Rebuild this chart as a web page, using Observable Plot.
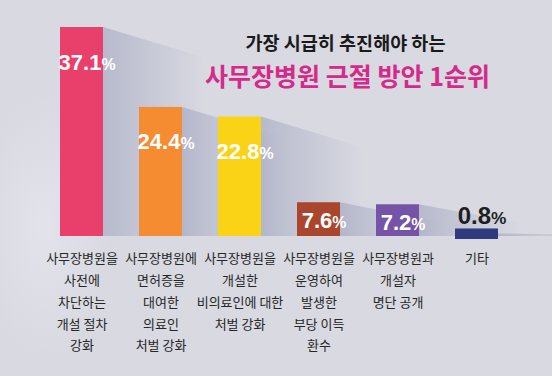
<!DOCTYPE html>
<html><head><meta charset="utf-8">
<script src="https://cdn.jsdelivr.net/npm/d3@7"></script>
<script src="https://cdn.jsdelivr.net/npm/@observablehq/plot@0.6"></script>
<style>
html,body{margin:0;padding:0;background:#d8d9e1;}
#chart svg{display:block;}
</style></head><body><div id="chart"></div>
<script>
// ---- data ----
const categories = [
  "사무장병원을\n사전에\n차단하는\n개설 절차\n강화",
  "사무장병원에\n면허증을\n대여한\n의료인\n처벌 강화",
  "사무장병원을\n개설한\n비의료인에 대한\n처벌 강화",
  "사무장병원을\n운영하여\n발생한\n부당 이득\n환수",
  "사무장병원과\n개설자\n명단 공개",
  "기타"
];
const values = [37.1, 24.4, 22.8, 7.6, 7.2, 0.8];
const palette = ["#e8406a", "#f58c32", "#fbd316", "#a9462d", "#7553a6", "#2f3b7c"];
const titleLine1 = "가장 시급히 추진해야 하는";
const titleLine2 = "사무장병원 근절 방안 1순위";

const data = categories.map((c, i) => ({category: c, value: values[i]}));
const KR = "'Noto Sans CJK KR', 'Noto Sans CJK SC', sans-serif";
const NUM = "'Liberation Sans', Arial, sans-serif";

// soft background glow + bar shadows, drawn from the scales
function shadows(index, scales, values, dimensions) {
  const x = scales.x, y = scales.y;
  const bw = typeof x.bandwidth === "function" ? x.bandwidth() : x.bandwidth;
  const step = typeof x.step === "function" ? x.step() : x.step;
  const g = d3.create("svg:g");
  const defs = g.append("defs");
  const grad = defs.append("linearGradient")
    .attr("id", "shadowGrad").attr("x1", 0).attr("x2", 1).attr("y1", 0).attr("y2", 0);
  grad.append("stop").attr("offset", 0).attr("stop-color", "#9ca1bb").attr("stop-opacity", 0.55);
  grad.append("stop").attr("offset", 1).attr("stop-color", "#9ca1bb").attr("stop-opacity", 0);
  const glow = defs.append("radialGradient").attr("id", "glow");
  glow.append("stop").attr("offset", 0).attr("stop-color", "#e4e5ec").attr("stop-opacity", 0.9);
  glow.append("stop").attr("offset", 1).attr("stop-color", "#e4e5ec").attr("stop-opacity", 0);
  const {width, height} = dimensions;
  g.append("ellipse").attr("cx", width * 0.08).attr("cy", height * 0.6)
    .attr("rx", width * 0.12).attr("ry", height * 0.35).attr("fill", "url(#glow)");
  const base = y(0);
  const L = step * 1.3;
  data.forEach(d => {
    const x0 = x(d.category) + bw;
    const yt = y(d.value);
    const drop = Math.min(0.3 * L, 0.6 * (base - yt));
    g.append("path")
      .attr("d", `M${x0},${yt}L${x0 + L},${yt + drop}L${x0 + L},${base}L${x0},${base}Z`)
      .attr("fill", "url(#shadowGrad)");
  });
  return g.node();
}

const plot = Plot.plot({
  width: 552,
  height: 376,
  marginLeft: 20,
  marginRight: 13,
  marginTop: 27,
  marginBottom: 140,
  style: {background: "#d8d9e1", overflow: "visible"},
  x: {domain: categories, paddingInner: 0.45, paddingOuter: 0.5, axis: null},
  y: {type: "pow", exponent: 1.15, domain: [0, d3.max(values)], axis: null},
  color: {domain: categories, range: palette},
  marks: [
    shadows,
    Plot.barY(data.filter(d => d.value >= 2), {x: "category", y: "value", fill: "category"}),
    Plot.barY(data.filter(d => d.value < 2), {x: "category", y: "value", fill: "category", insetTop: -5, insetBottom: -3}),
    // value labels
    Plot.text(data.filter(d => d.value >= 20), {
      x: "category", y: "value", text: d => d.value.toFixed(1) + "%",
      dx: 5, dy: 35, fill: "white", fontSize: 22, fontWeight: "bold", fontFamily: NUM
    }),
    Plot.text(data.filter(d => d.value >= 2 && d.value < 20), {
      x: "category", y: "value", text: d => d.value.toFixed(1) + "%",
      dx: 5, dy: 18, fill: "white", fontSize: 22, fontWeight: "bold", fontFamily: NUM
    }),
    Plot.text(data.filter(d => d.value < 2), {
      x: "category", y: "value", text: d => d.value.toFixed(1) + "%",
      dx: 5, dy: -18, fill: "#1e1e1e", fontSize: 24, fontWeight: "bold", fontFamily: NUM
    }),
    // category labels
    Plot.text(data, {
      x: "category", frameAnchor: "bottom", text: "category",
      lineAnchor: "top", dy: 11, lineHeight: 1.68,
      fontSize: 13, fill: "#262626", fontFamily: KR
    }),
    // title
    Plot.text([titleLine1], {
      frameAnchor: "top-left", dx: 325, dy: 17, textAnchor: "middle", lineAnchor: "middle",
      fontSize: 18.5, fontWeight: "bold", fill: "#1a1a1a", fontFamily: KR
    }),
    Plot.text([titleLine2], {
      frameAnchor: "top-left", dx: 327, dy: 50, textAnchor: "middle", lineAnchor: "middle",
      fontSize: 25, fontWeight: "bold", fill: "#d42a8a", fontFamily: KR
    })
  ]
});

// smaller percent sign
d3.select(plot).selectAll("text").each(function () {
  const t = this.textContent;
  if (/^[0-9.]+%$/.test(t)) {
    this.textContent = t.slice(0, -1);
    d3.select(this).append("tspan").attr("font-size", "0.72em").text("%");
  }
});

document.getElementById("chart").appendChild(plot);
</script>
</body></html>
